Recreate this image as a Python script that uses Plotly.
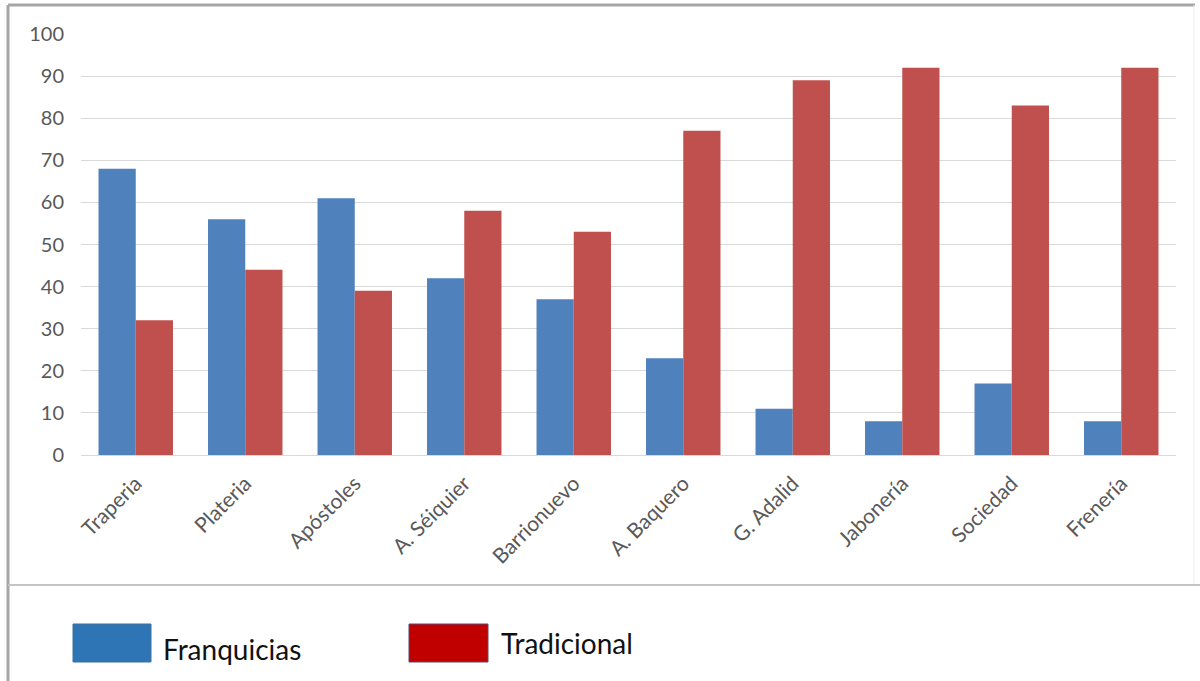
import plotly.graph_objects as go

categories = ["Traperia", "Plateria", "Apóstoles", "A. Séiquier", "Barrionuevo",
              "A. Baquero", "G. Adalid", "Jabonería", "Sociedad", "Frenería"]
franquicias = [68, 56, 61, 42, 37, 23, 11, 8, 17, 8]
tradicional = [32, 44, 39, 58, 53, 77, 89, 92, 83, 92]
series_names = ["Franquicias", "Tradicional"]
y_ticks = [0, 10, 20, 30, 40, 50, 60, 70, 80, 90, 100]

W, H = 1200, 681
L, R, T, B = 81, 1176, 34, 455

def px(x):
    return (x - L) / (R - L)

def py(y):
    return (B - y) / (B - T)

fig = go.Figure()
fig.add_trace(go.Bar(x=categories, y=franquicias, name=series_names[0],
                     marker=dict(color="#4F81BD", line=dict(width=0))))
fig.add_trace(go.Bar(x=categories, y=tradicional, name=series_names[1],
                     marker=dict(color="#C0504D", line=dict(width=0))))

shapes = [
    # frame
    dict(type="line", xref="paper", yref="paper", x0=px(8), x1=px(1195), y0=py(5), y1=py(5),
         line=dict(color="#a6a6a6", width=3)),
    dict(type="line", xref="paper", yref="paper", x0=px(8), x1=px(8), y0=py(5), y1=py(681),
         line=dict(color="#a6a6a6", width=3)),
    dict(type="line", xref="paper", yref="paper", x0=px(1194), x1=px(1194), y0=py(5), y1=py(585),
         line=dict(color="#f0f0f0", width=1)),
    dict(type="line", xref="paper", yref="paper", x0=px(8), x1=px(1200), y0=py(585), y1=py(585),
         line=dict(color="#c4c4c4", width=2)),
    # legend swatches
    dict(type="rect", xref="paper", yref="paper", x0=px(73), x1=px(151), y0=py(624), y1=py(662),
         fillcolor="#2E75B6", line=dict(color="#41719C", width=1)),
    dict(type="rect", xref="paper", yref="paper", x0=px(409), x1=px(488), y0=py(624), y1=py(662),
         fillcolor="#C00000", line=dict(color="#5a4a6a", width=1)),
]

annotations = [
    dict(xref="paper", yref="paper", x=px(161), y=py(649), text=series_names[0], showarrow=False,
         xanchor="left", yanchor="middle", font=dict(family="Lato", size=28, color="#111111")),
    dict(xref="paper", yref="paper", x=px(499), y=py(643), text=series_names[1], showarrow=False,
         xanchor="left", yanchor="middle", font=dict(family="Lato", size=28, color="#111111")),
]

fig.update_layout(
    width=W, height=H,
    margin=dict(l=L, r=W - R, t=T, b=H - B),
    paper_bgcolor="white", plot_bgcolor="white",
    barmode="group", bargap=0.32, bargroupgap=0,
    showlegend=False,
    shapes=shapes, annotations=annotations,
    xaxis=dict(tickangle=-45, tickfont=dict(family="Lato", size=21, color="#595959"),
               showline=True, linecolor="#d9d9d9", linewidth=1, ticks="", showgrid=False,
               ticklabelstandoff=7),
    yaxis=dict(range=[0, 100], tickvals=y_ticks, tickfont=dict(family="Lato", size=20, color="#595959"),
               showgrid=True, gridcolor="#d9d9d9", gridwidth=1, zeroline=False, ticks="",
               ticklabelstandoff=16),
)

fig.write_html("out.html", config={"displayModeBar": False},
               post_script="document.body.style.margin='0';")
